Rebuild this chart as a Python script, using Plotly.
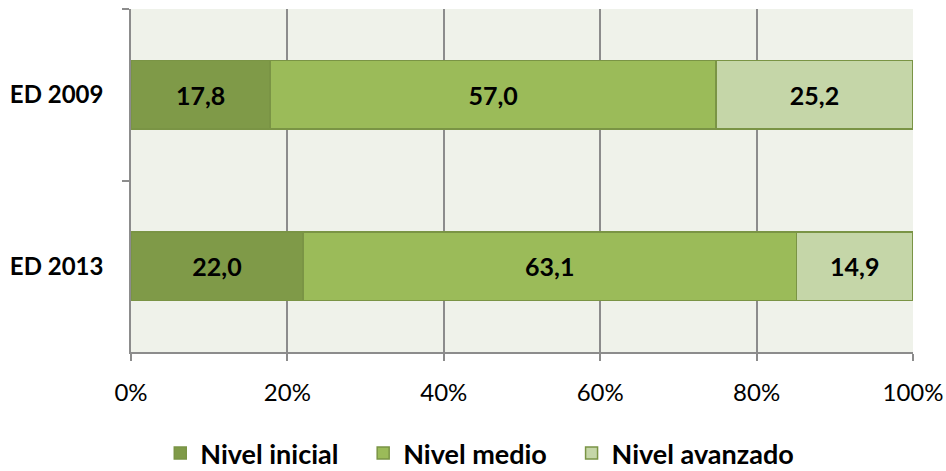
import plotly.graph_objects as go

categorias = ['ED 2009', 'ED 2013']
niveles = ['Nivel inicial', 'Nivel medio', 'Nivel avanzado']
inicial = [17.8, 22.0]
medio = [57.0, 63.1]
avanzado = [25.2, 14.9]
colores = ['#7F9A48', '#9BBB59', '#C5D6A8']

# espacio extra entre los elementos de la leyenda
relleno = ['\u00a0\u00a0\u00a0', '\u00a0\u00a0\u00a0', '']

fig = go.Figure()
for nombre, valores, color, pad in zip(niveles, [inicial, medio, avanzado], colores, relleno):
    fig.add_trace(go.Bar(
        y=categorias, x=valores, name=nombre + pad, orientation='h',
        marker=dict(color=color, line=dict(color='#7A9445', width=1.5)),
        text=valores, texttemplate='%{x:.1f}', textposition='inside',
        insidetextanchor='middle',
        textfont=dict(family='Lato', size=25, color='black', weight='bold'),
        width=0.4,
    ))

fig.update_layout(
    barmode='stack',
    barnorm='percent',
    separators=',.',
    width=946, height=471,
    margin=dict(l=131, r=33, t=9, b=119),
    plot_bgcolor='#EFF2EA',
    paper_bgcolor='white',
    font=dict(family='Lato', size=24, color='black'),
    legend=dict(orientation='h', x=0.446, xanchor='center',
                yref='container', y=0.037, yanchor='middle',
                font=dict(size=27, weight='bold'), itemwidth=30,
                traceorder='normal'),
)
fig.update_xaxes(range=[0, 100], tickvals=[0, 20, 40, 60, 80, 100],
                 ticktext=['0%', '20%', '40%', '60%', '80%', '100%'],
                 showgrid=True, gridcolor='#8C8C8C', gridwidth=1.5,
                 showline=True, linecolor='#8C8C8C', linewidth=1.5,
                 ticks='outside', ticklen=7, tickcolor='#8C8C8C', tickwidth=1.5,
                 ticklabelstandoff=11, zeroline=False, automargin=False)
fig.update_yaxes(categoryorder='array', categoryarray=categorias, autorange='reversed',
                 showline=True, linecolor='#8C8C8C', linewidth=1.5,
                 ticks='outside', ticklen=7, tickcolor='#8C8C8C', tickwidth=1.5,
                 tickson='boundaries', showgrid=False, automargin=False,
                 tickfont=dict(size=24, weight='bold'), ticklabelstandoff=21)

# quitar el margen del body para que la figura ocupe toda la ventana
fig.write_html("out.html", config={'displayModeBar': False},
               post_script="document.body.style.margin='0px';document.body.style.overflow='hidden';")
